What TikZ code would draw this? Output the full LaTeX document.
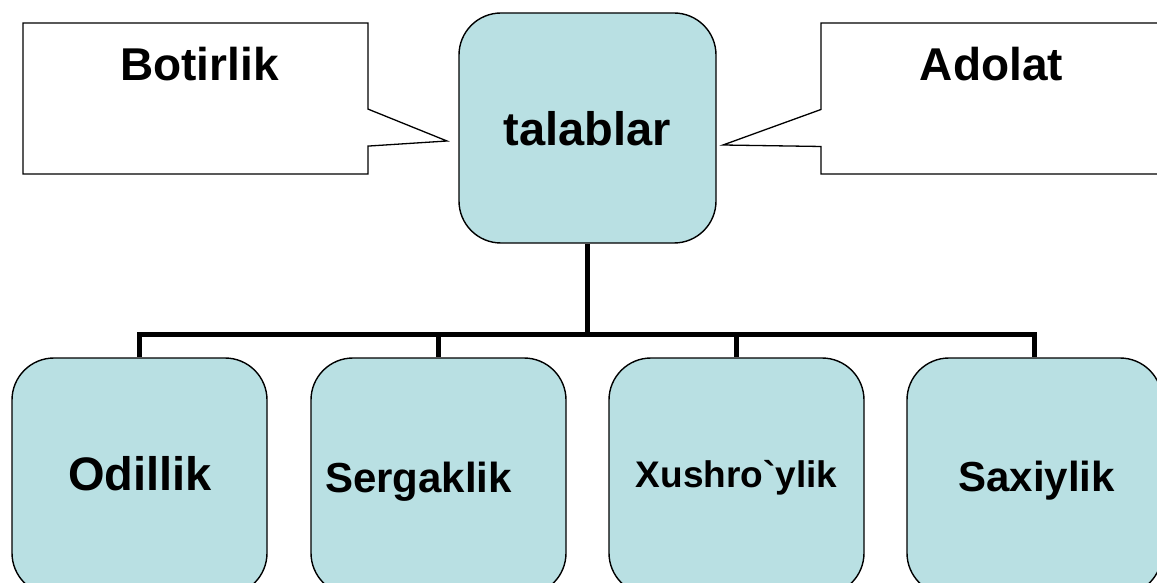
\documentclass[tikz,border=0pt]{standalone}
\usepackage{fontspec}
\setmainfont{Liberation Sans}
\usetikzlibrary{shapes.callouts}
\definecolor{boxblue}{RGB}{185,224,227}

\begin{document}
\begin{tikzpicture}[x=1pt,y=-1pt,
  box/.style={draw,fill=boxblue,line width=1.4pt,rounded corners=42pt,inner sep=0pt,
    minimum width=255pt,minimum height=237pt},
  callbox/.style={rectangle callout,draw,fill=white,line width=1.3pt,inner sep=0pt,
    minimum height=151pt,callout pointer width=37pt},
  bus/.style={line width=5pt},
  word/.style={anchor=base,inner sep=0pt,font=\bfseries\fontsize{#1}{#1}\selectfont}]
\useasboundingbox (0,0) rectangle (1157,583);
\clip (0,0) rectangle (1157,583);
\node[box,minimum width=257pt,minimum height=230pt] (tal) at (587.5,128) {};
\node[callbox,minimum width=345pt,callout absolute pointer={(447,141)}] (bot) at (195.5,98.5) {};
\node[callbox,minimum width=342pt,callout absolute pointer={(723,145)}] (ado) at (992,98.5) {};
\node[box] (odil) at (139.5,476.5) {};
\node[box] (serg) at (438.5,476.5) {};
\node[box] (xush) at (736.5,476.5) {};
\node[box] (saxi) at (1034.5,476.5) {};
\coordinate (fork) at (587.5,334);
\draw[bus] (tal.south) -- (tal.south |- fork);
\foreach \n in {odil,serg,xush,saxi}
  \draw[bus] (tal.south |- fork) -| (\n.north);
\node[word=47] (talT) at (587.5,146) {talablar};
\node[word=46] (botT) at (199.5,81) {Botirlik};
\node[word=46] (adoT) at (991.5,81) {Adolat};
\node[word=47] (odilT) at (140,490) {Odillik};
\node[word=42] (sergT) at (418.5,492) {Sergaklik};
\node[word=37] (xushT) at (736.5,487) {Xushro\textasciigrave ylik};
\node[word=42] (saxiT) at (1036.5,491) {Saxiylik};
\end{tikzpicture}
\end{document}
